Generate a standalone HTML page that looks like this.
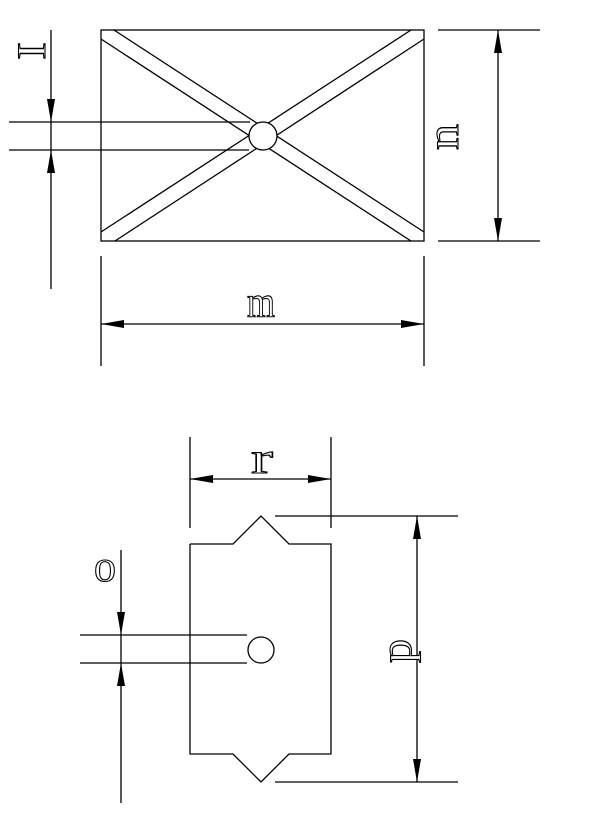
<!DOCTYPE html>
<html><head><meta charset="utf-8"><style>
html,body{margin:0;padding:0;background:#fff;}
svg{display:block;}
text{font-family:"Liberation Serif",serif;fill:#fff;stroke:#000;stroke-width:1.1;}
</style></head><body>
<svg width="604" height="836" viewBox="0 0 604 836" xmlns="http://www.w3.org/2000/svg">
<g stroke="#000" stroke-width="1.3" fill="none">
<!-- top figure -->
<rect x="101" y="30" width="323" height="211"/>
<line x1="114" y1="30" x2="424" y2="232"/>
<line x1="101" y1="39" x2="411" y2="241"/>
<line x1="101" y1="232" x2="411" y2="30"/>
<line x1="115" y1="241" x2="424" y2="39"/>
<circle cx="263" cy="136" r="14" fill="#fff"/>
<line x1="9" y1="122" x2="250" y2="122"/>
<line x1="9" y1="150" x2="249" y2="150"/>
<line x1="51" y1="30" x2="51" y2="289"/>
<!-- n dim -->
<line x1="438" y1="30" x2="540" y2="30"/>
<line x1="438" y1="241" x2="540" y2="241"/>
<line x1="498" y1="30" x2="498" y2="241"/>
<!-- m dim -->
<line x1="101" y1="256" x2="101" y2="366"/>
<line x1="424" y1="256" x2="424" y2="366"/>
<line x1="101" y1="324" x2="424" y2="324"/>
<!-- bottom figure -->
<polyline points="190,544 233,544 261,516 289,544 331,544 331,754 289,754 261,782 233,754 190,754 190,544"/>
<circle cx="261" cy="650" r="13"/>
<line x1="80" y1="635" x2="247" y2="635"/>
<line x1="80" y1="663" x2="247" y2="663"/>
<line x1="121" y1="550" x2="121" y2="803"/>
<!-- r dim -->
<line x1="190" y1="437" x2="190" y2="528"/>
<line x1="331" y1="437" x2="331" y2="528"/>
<line x1="190" y1="479" x2="331" y2="479"/>
<!-- p dim -->
<line x1="275" y1="516" x2="458" y2="516"/>
<line x1="275" y1="782" x2="458" y2="782"/>
<line x1="417" y1="516" x2="417" y2="782"/>
</g>
<g fill="#000">
<polygon points="51,122 47,99 55,99"/>
<polygon points="51,150 47,173 55,173"/>
<polygon points="498,30 494,53 502,53"/>
<polygon points="498,241 494,218 502,218"/>
<polygon points="101,324 124,320 124,328"/>
<polygon points="424,324 401,320 401,328"/>
<polygon points="121,635 117,612 125,612"/>
<polygon points="121,663 117,686 125,686"/>
<polygon points="190,479 213,475 213,483"/>
<polygon points="331,479 308,475 308,483"/>
<polygon points="417,516 413,539 421,539"/>
<polygon points="417,782 413,759 421,759"/>
</g>
<text x="0" y="0" font-size="40" transform="translate(45,51) rotate(-90)" text-anchor="middle" textLength="18" lengthAdjust="spacingAndGlyphs">I</text>
<text x="0" y="0" font-size="44" transform="translate(458,137) rotate(-90)" text-anchor="middle" textLength="26" lengthAdjust="spacingAndGlyphs">n</text>
<text x="261" y="317" font-size="44" text-anchor="middle" textLength="28" lengthAdjust="spacingAndGlyphs">m</text>
<text x="262" y="473" font-size="44" text-anchor="middle" textLength="22" lengthAdjust="spacingAndGlyphs">r</text>
<text x="105" y="581" font-size="44" text-anchor="middle" textLength="22" lengthAdjust="spacingAndGlyphs">o</text>
<text x="0" y="0" font-size="44" transform="translate(411,651) rotate(-90)" text-anchor="middle" textLength="24" lengthAdjust="spacingAndGlyphs">p</text>
</svg>
</body></html>
